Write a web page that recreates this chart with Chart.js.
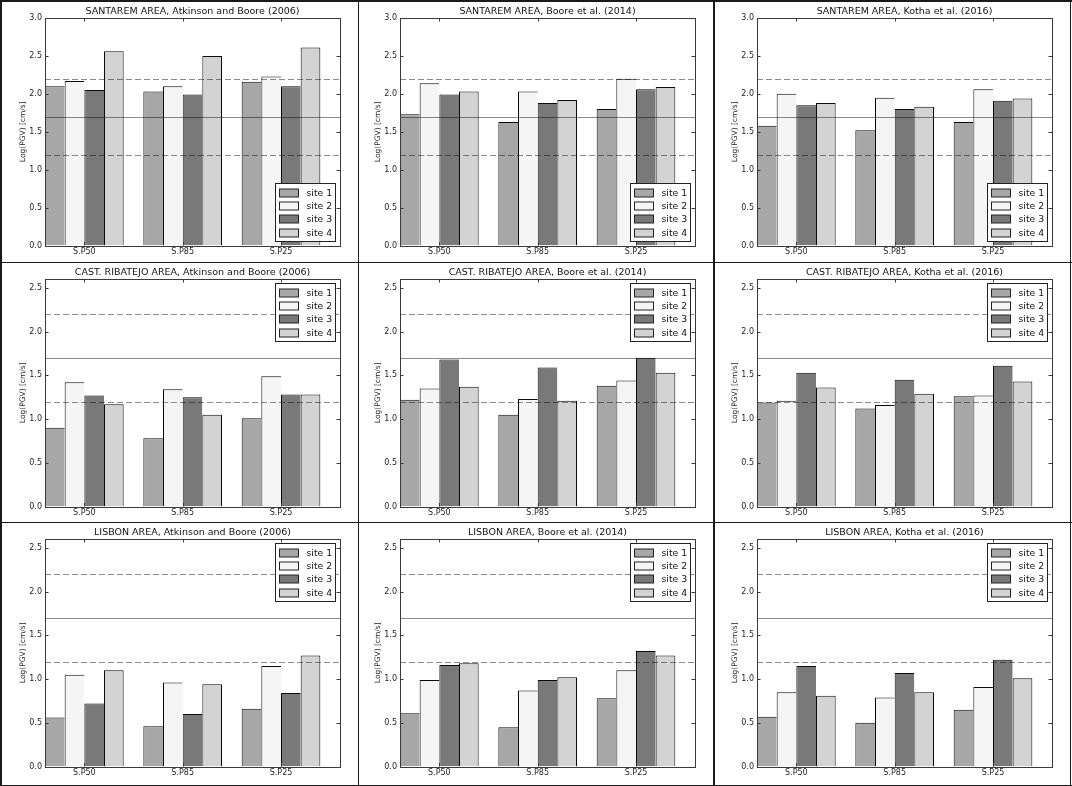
<!DOCTYPE html>
<html lang="en">
<head>
<meta charset="UTF-8">
<title>Log(PGV) per area and ground motion model</title>
<style>
  body { margin: 0; background: #fff; }
  #fig { position: relative; width: 1072px; height: 786px; overflow: hidden; background: #fff; }
  #fig canvas { position: absolute; }
  .rule { position: absolute; background: #1a1a1a; z-index: 2; }
</style>
</head>
<body>
<div id="fig">
  <canvas id="p11" width="350" height="262" style="left:0;top:0"></canvas>
  <canvas id="p12" width="350" height="262" style="left:355px;top:0"></canvas>
  <canvas id="p13" width="350" height="262" style="left:712px;top:0"></canvas>
  <canvas id="p21" width="350" height="262" style="left:0;top:261px"></canvas>
  <canvas id="p22" width="350" height="262" style="left:355px;top:261px"></canvas>
  <canvas id="p23" width="350" height="262" style="left:712px;top:261px"></canvas>
  <canvas id="p31" width="350" height="262" style="left:0;top:521px"></canvas>
  <canvas id="p32" width="350" height="262" style="left:355px;top:521px"></canvas>
  <canvas id="p33" width="350" height="262" style="left:712px;top:521px"></canvas>

  <!-- outer frame and cell dividers -->
  <div class="rule" style="left:0;top:0;width:1072px;height:1.5px"></div>
  <div class="rule" style="left:0;top:784.5px;width:1072px;height:1.5px"></div>
  <div class="rule" style="left:0;top:0;width:1.5px;height:786px"></div>
  <div class="rule" style="left:1069.5px;top:0;width:1.5px;height:786px"></div>
  <div class="rule" style="left:357.5px;top:0;width:1.5px;height:786px"></div>
  <div class="rule" style="left:713px;top:0;width:1.5px;height:786px"></div>
  <div class="rule" style="left:0;top:261.5px;width:1072px;height:1.5px"></div>
  <div class="rule" style="left:0;top:521.5px;width:1072px;height:1.5px"></div>
</div>

<script src="https://cdn.jsdelivr.net/npm/chart.js"></script>
<script>
// scenarios on the x axis and the four sites
const categories = ['S.P50', 'S.P85', 'S.P25'];
const siteLabels = ['site 1', 'site 2', 'site 3', 'site 4'];
const siteColors = ['#a7a7a7', '#f5f5f5', '#797979', '#d3d3d3'];

// reference levels drawn across every panel
const refLevels = [1.2, 1.7, 2.2];
const refDashed = [true, false, true];

// Log(PGV) values, one row per site: [S.P50, S.P85, S.P25]
const santaremAB06 = [
  [2.10, 2.03, 2.16],
  [2.17, 2.10, 2.23],
  [2.05, 1.99, 2.10],
  [2.56, 2.50, 2.61]
];
const santaremBSSA14 = [
  [1.73, 1.63, 1.80],
  [2.14, 2.03, 2.20],
  [1.99, 1.88, 2.06],
  [2.03, 1.92, 2.09]
];
const santaremK16 = [
  [1.58, 1.52, 1.63],
  [2.00, 1.95, 2.06],
  [1.85, 1.80, 1.91],
  [1.88, 1.83, 1.94]
];
const ribatejoAB06 = [
  [0.90, 0.78, 1.01],
  [1.42, 1.34, 1.49],
  [1.27, 1.25, 1.28],
  [1.17, 1.05, 1.28]
];
const ribatejoBSSA14 = [
  [1.22, 1.05, 1.38],
  [1.35, 1.23, 1.44],
  [1.68, 1.59, 1.70],
  [1.37, 1.21, 1.53]
];
const ribatejoK16 = [
  [1.19, 1.12, 1.26],
  [1.21, 1.16, 1.27],
  [1.53, 1.45, 1.61],
  [1.36, 1.29, 1.43]
];
const lisbonAB06 = [
  [0.56, 0.46, 0.66],
  [1.05, 0.96, 1.15],
  [0.72, 0.60, 0.84],
  [1.10, 0.94, 1.27]
];
const lisbonBSSA14 = [
  [0.61, 0.45, 0.78],
  [0.99, 0.87, 1.10],
  [1.16, 0.99, 1.32],
  [1.18, 1.02, 1.27]
];
const lisbonK16 = [
  [0.57, 0.50, 0.65],
  [0.85, 0.79, 0.91],
  [1.15, 1.07, 1.22],
  [0.81, 0.85, 1.01]
];

Chart.defaults.font.family = '"DejaVu Sans", sans-serif';
Chart.defaults.color = '#1e1e1e';

// groups of 4 bars, one bar-width gap between groups (x axis runs 0..15)
const groupCenter = i => i * 5 + 2;

// panel title, reference lines, axes box with inward ticks, boxed legend
const panelDecor = {
  id: 'panelDecor',
  afterDatasetsDraw(chart, args, opts) {
    const { ctx, chartArea: a, scales: { x, y } } = chart;
    ctx.save();
    ctx.fillStyle = '#111';
    ctx.font = '9.5px "DejaVu Sans"';
    ctx.textAlign = 'center';
    ctx.textBaseline = 'middle';
    ctx.fillText(opts.title, (a.left + a.right) / 2, a.top - 6.5);

    ctx.lineWidth = 1;
    ctx.strokeStyle = 'rgba(0, 0, 0, 0.45)';
    refLevels.forEach((v, i) => {
      const py = Math.round(y.getPixelForValue(v)) + 0.5;
      ctx.setLineDash(refDashed[i] ? [6, 3] : []);
      ctx.beginPath();
      ctx.moveTo(a.left, py);
      ctx.lineTo(a.right, py);
      ctx.stroke();
    });
    ctx.setLineDash([]);

    ctx.strokeStyle = '#3a3a3a';
    ctx.strokeRect(Math.round(a.left) + 0.5, Math.round(a.top) + 0.5,
      Math.round(a.right - a.left), Math.round(a.bottom - a.top));
    ctx.beginPath();
    y.ticks.forEach(t => {
      const py = Math.round(y.getPixelForValue(t.value)) + 0.5;
      ctx.moveTo(a.left, py); ctx.lineTo(a.left + 3.5, py);
      ctx.moveTo(a.right, py); ctx.lineTo(a.right - 3.5, py);
    });
    x.ticks.forEach(t => {
      const px = Math.round(x.getPixelForValue(t.value)) + 0.5;
      ctx.moveTo(px, a.bottom); ctx.lineTo(px, a.bottom - 3.5);
      ctx.moveTo(px, a.top); ctx.lineTo(px, a.top + 3.5);
    });
    ctx.stroke();
    ctx.restore();
  },
  afterDraw(chart, args, opts) {
    const { ctx, chartArea: a } = chart;
    const w = 60, h = 58;
    const bx = Math.round(a.right - 5 - w) + 0.5;
    const by = Math.round(opts.legendAt === 'bottom' ? a.bottom - 5 - h : a.top + 4) + 0.5;
    ctx.save();
    ctx.fillStyle = '#fff';
    ctx.fillRect(bx, by, w, h);
    ctx.lineWidth = 1;
    ctx.strokeStyle = '#222';
    ctx.strokeRect(bx, by, w, h);
    ctx.font = '9.3px "DejaVu Sans"';
    ctx.textBaseline = 'middle';
    chart.data.datasets.forEach((ds, i) => {
      const cy = Math.round(by + 9 + i * 13.4);
      ctx.fillStyle = ds.backgroundColor;
      ctx.fillRect(bx + 4, cy - 4, 19, 8);
      ctx.strokeStyle = '#222';
      ctx.strokeRect(bx + 4, cy - 4, 19, 8);
      ctx.fillStyle = '#111';
      ctx.fillText(ds.label, bx + 31, cy + 0.5);
    });
    ctx.restore();
  }
};

function makePanel(canvasId, title, siteValues, yMax, legendAt) {
  return new Chart(document.getElementById(canvasId), {
    type: 'bar',
    data: {
      datasets: siteValues.map((vals, j) => ({
        label: siteLabels[j],
        data: vals.map((v, i) => ({ x: groupCenter(i), y: v })),
        backgroundColor: siteColors[j],
        borderColor: '#0a0a0a',
        // adjacent bars share one edge; the last bar of a group closes it
        borderWidth: { top: 1, left: 1, right: j === siteValues.length - 1 ? 1 : 0, bottom: 0 },
        borderSkipped: false,
        categoryPercentage: 0.8,
        barPercentage: 1.0
      }))
    },
    options: {
      responsive: false,
      animation: false,
      layout: { padding: { left: 0, right: 10, top: 18, bottom: 0 } },
      plugins: {
        legend: { display: false },
        tooltip: { enabled: false },
        title: { display: false },
        panelDecor: { legendAt: legendAt, title: title }
      },
      scales: {
        x: {
          type: 'linear',
          offset: false,
          bounds: 'data',
          min: 0,
          max: 15,
          afterBuildTicks: ax => { ax.ticks = categories.map((c, i) => ({ value: groupCenter(i) })); },
          afterFit: ax => { ax.height = 16.5; },
          ticks: {
            callback: (v, i) => categories[i],
            font: { size: 8 },
            padding: 1.5,
            maxRotation: 0,
            autoSkip: false
          },
          grid: { display: false, drawTicks: false, offset: false },
          border: { display: false }
        },
        y: {
          min: 0,
          max: yMax,
          afterBuildTicks: ax => {
            ax.ticks = ax.ticks.filter(t => Math.abs(t.value * 2 - Math.round(t.value * 2)) < 1e-6);
          },
          afterFit: ax => { ax.width = 45; },
          ticks: {
            stepSize: 0.5,
            includeBounds: false,
            callback: v => v.toFixed(1),
            font: { size: 8 },
            padding: 3
          },
          grid: { display: false, drawTicks: false },
          border: { display: false },
          title: {
            display: true,
            text: 'Log(PGV) [cm/s]',
            font: { size: 7.5 },
            padding: { top: 19, bottom: 0 }
          }
        }
      }
    },
    plugins: [panelDecor]
  });
}

makePanel('p11', 'SANTAREM AREA, Atkinson and Boore (2006)', santaremAB06, 3.0, 'bottom');
makePanel('p12', 'SANTAREM AREA, Boore et al. (2014)', santaremBSSA14, 3.0, 'bottom');
makePanel('p13', 'SANTAREM AREA, Kotha et al. (2016)', santaremK16, 3.0, 'bottom');
makePanel('p21', 'CAST. RIBATEJO AREA, Atkinson and Boore (2006)', ribatejoAB06, 2.6, 'top');
makePanel('p22', 'CAST. RIBATEJO AREA, Boore et al. (2014)', ribatejoBSSA14, 2.6, 'top');
makePanel('p23', 'CAST. RIBATEJO AREA, Kotha et al. (2016)', ribatejoK16, 2.6, 'top');
makePanel('p31', 'LISBON AREA, Atkinson and Boore (2006)', lisbonAB06, 2.6, 'top');
makePanel('p32', 'LISBON AREA, Boore et al. (2014)', lisbonBSSA14, 2.6, 'top');
makePanel('p33', 'LISBON AREA, Kotha et al. (2016)', lisbonK16, 2.6, 'top');
</script>
</body>
</html>
